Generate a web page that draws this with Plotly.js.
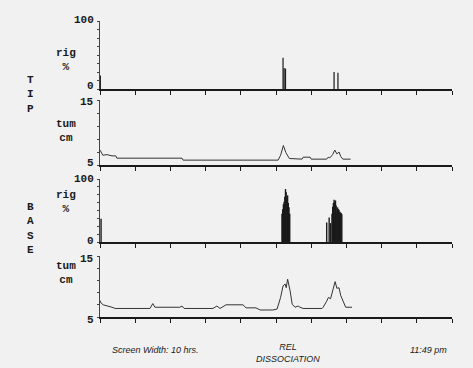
<!DOCTYPE html>
<html>
<head>
<meta charset="utf-8">
<script src="https://cdn.plot.ly/plotly-3.0.1.min.js"></script>
<style>html,body{margin:0;padding:0;background:#f1f1f1;}#chart{width:473px;height:368px;}</style>
</head>
<body>
<div id="chart"></div>
<script>
// ---- Data (time in hours from screen start, 10 hrs wide) ----
const tipRigHours = [0.01, 5.20, 5.23, 5.27, 6.65, 6.76];
const tipRigPct   = [20, 46, 31, 30, 25, 24];

const tipTumHours = [0.00, 0.03, 0.08, 0.20, 0.34, 0.45, 0.48, 2.33, 2.36, 5.06, 5.13, 5.21, 5.28, 5.38, 5.74, 5.77, 5.97, 6.00, 6.44, 6.48, 6.53, 6.61, 6.67, 6.73, 6.79, 6.84, 6.90, 7.12];
const tipTumCm    = [7.3, 6.9, 6.5, 6.6, 6.4, 6.4, 6.05, 6.05, 5.75, 5.75, 6.5, 8.0, 6.9, 6.0, 5.9, 6.2, 6.2, 5.9, 5.9, 6.2, 6.1, 6.6, 7.3, 6.7, 7.0, 6.3, 5.9, 5.9];

const baseRigHours = [0.03,
  5.17, 5.19, 5.21, 5.23, 5.25, 5.27, 5.29, 5.31, 5.33, 5.35, 5.37, 5.39,
  6.44, 6.51, 6.55, 6.59, 6.61, 6.63, 6.65, 6.67, 6.69, 6.71, 6.73, 6.75, 6.77, 6.79, 6.81, 6.83, 6.85, 6.87];
const baseRigPct = [37,
  45, 52, 60, 64, 72, 84, 79, 70, 74, 62, 55, 45,
  31, 39, 30, 45, 56, 62, 67, 64, 66, 58, 50, 55, 52, 51, 48, 47, 46, 44];

const baseTumHours = [0.00, 0.03, 0.09, 0.20, 0.34, 0.43, 1.42, 1.50, 1.56, 2.27, 2.33, 2.39, 3.21, 3.32, 3.41, 3.58, 4.06, 4.15, 4.43, 4.55, 4.91, 5.03, 5.13, 5.20, 5.26, 5.29, 5.33, 5.40, 5.46, 5.54, 5.63, 5.68, 5.77, 6.31, 6.34, 6.44, 6.49, 6.55, 6.61, 6.68, 6.73, 6.79, 6.84, 6.91, 6.98, 7.16];
const baseTumCm    = [7.7, 7.3, 7.0, 6.85, 6.6, 6.4, 6.4, 7.2, 6.6, 6.6, 6.8, 6.4, 6.4, 6.8, 6.4, 7.0, 7.0, 6.5, 6.5, 6.15, 6.15, 6.3, 8.2, 10.1, 10.4, 9.8, 11.2, 9.3, 7.1, 6.6, 6.8, 6.6, 6.4, 6.4, 6.6, 7.6, 8.2, 8.0, 9.5, 10.8, 9.7, 9.8, 8.5, 7.5, 6.6, 6.6];

const hourTicks = [0, 1, 2, 3, 4, 5, 6, 7, 8, 9, 10];
const rigLabels = ['100', '0'];
const tumLabels = ['15', '5'];

// ---- Layout helpers ----
const W = 473, H = 368;
const px = x => x / W;
const py = y => 1 - y / H;
const ink = '#1a1a1a';
const mono = 'Liberation Mono, DejaVu Sans Mono, monospace';
const sans = 'Liberation Sans, Arial, sans-serif';

const xDomain = [px(100), px(452)];
const panels = [
  {top: 21,  bottom: 89,  range: [0, 100], labels: rigLabels, minor: 12.5, topLab: 20,  botLab: 86},
  {top: 100, bottom: 165, range: [5, 15],  labels: tumLabels, minor: 2,    topLab: 102, botLab: 163},
  {top: 179, bottom: 242, range: [0, 100], labels: rigLabels, minor: 12.5, topLab: 179, botLab: 241},
  {top: 256, bottom: 317, range: [5, 15],  labels: tumLabels, minor: 2,    topLab: 259, botLab: 320}
];

const layout = {
  width: W, height: H,
  margin: {l: 0, r: 0, t: 0, b: 0},
  paper_bgcolor: '#f1f1f1',
  plot_bgcolor: '#f1f1f1',
  showlegend: false,
  annotations: [],
  font: {family: mono, color: ink}
};

const textAnn = (x, y, text, opts) => Object.assign({
  xref: 'paper', yref: 'paper', x: px(x), y: py(y), text: text, showarrow: false,
  xanchor: 'left', yanchor: 'middle',
  font: {family: mono, size: 11, color: ink, weight: 'bold'}
}, opts || {});

panels.forEach((p, i) => {
  const n = i === 0 ? '' : String(i + 1);
  layout['xaxis' + n] = {
    domain: xDomain, anchor: 'y' + n, range: [0, 10],
    showgrid: false, zeroline: false, showline: true, linecolor: ink, linewidth: 2,
    ticks: 'outside', ticklen: 4, tickcolor: ink, tickwidth: 1,
    tickvals: hourTicks, showticklabels: false, fixedrange: true
  };
  layout['yaxis' + n] = {
    domain: [py(p.bottom), py(p.top)], anchor: 'x' + n, range: p.range,
    showgrid: false, zeroline: false, showline: true, linecolor: '#444', linewidth: 1,
    ticks: 'outside', ticklen: 2, tickcolor: '#444', tickwidth: 1,
    dtick: p.minor, tick0: p.range[0], showticklabels: false,
    fixedrange: true
  };
  layout.annotations.push(
    textAnn(96, p.topLab, p.labels[0], {xanchor: 'right', font: {family: mono, size: 11, color: ink, weight: 'bold'}}),
    textAnn(96, p.botLab, p.labels[1], {xanchor: 'right', font: {family: mono, size: 11, color: ink, weight: 'bold'}})
  );
});

layout.annotations.push(
  textAnn(54, 60, 'rig<br>%'),
  textAnn(54, 131, 'tum<br>cm'),
  textAnn(54, 202, 'rig<br>%'),
  textAnn(54, 273, 'tum<br>cm'),
  textAnn(30, 94, 'T<br>I<br>P', {xanchor: 'center', align: 'center', font: {family: mono, size: 11, color: ink, weight: 'bold'}}),
  textAnn(30, 228, 'B<br>A<br>S<br>E', {xanchor: 'center', align: 'center', font: {family: mono, size: 11, color: ink, weight: 'bold'}}),
  textAnn(110, 350, '<i>Screen Width: 10 hrs.</i>', {font: {family: sans, size: 9, color: ink}}),
  textAnn(288, 353, '<i>REL<br>DISSOCIATION</i>', {xanchor: 'center', align: 'center', font: {family: sans, size: 9, color: ink}}),
  textAnn(408, 350, '<i>11:49 pm</i>', {font: {family: sans, size: 9, color: ink}})
);

// spikes drawn as vertical strokes from 0 up to each value
function spikes(hours, vals) {
  const x = [], y = [];
  hours.forEach((h, k) => { x.push(h, h, null); y.push(0, vals[k], null); });
  return {x, y};
}
const s1 = spikes(tipRigHours, tipRigPct);
const s3 = spikes(baseRigHours, baseRigPct);

const traces = [
  {type: 'scatter', mode: 'lines', x: s1.x, y: s1.y, xaxis: 'x', yaxis: 'y', line: {color: ink, width: 1.2}, connectgaps: false, hoverinfo: 'skip'},
  {type: 'scatter', mode: 'lines', x: tipTumHours, y: tipTumCm, xaxis: 'x2', yaxis: 'y2', line: {color: '#333', width: 1}, hoverinfo: 'skip'},
  {type: 'scatter', mode: 'lines', x: s3.x, y: s3.y, xaxis: 'x3', yaxis: 'y3', line: {color: ink, width: 1.4}, connectgaps: false, hoverinfo: 'skip'},
  {type: 'scatter', mode: 'lines', x: baseTumHours, y: baseTumCm, xaxis: 'x4', yaxis: 'y4', line: {color: '#333', width: 1}, hoverinfo: 'skip'}
];

Plotly.newPlot('chart', traces, layout, {staticPlot: true, displayModeBar: false});
</script>
</body>
</html>
